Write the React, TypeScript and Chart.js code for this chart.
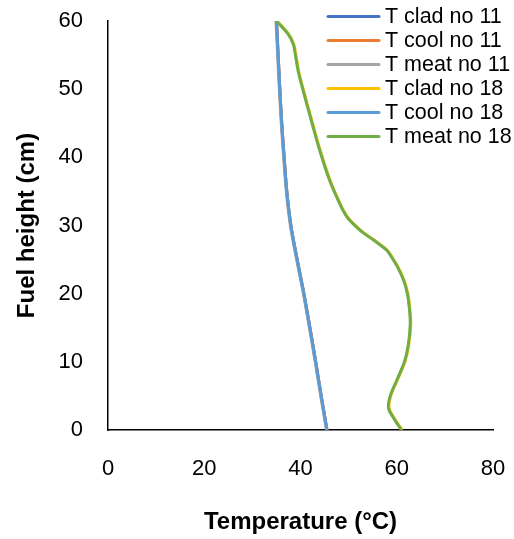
import React, { useEffect, useRef } from "react";
import { Chart, registerables } from "chart.js";

Chart.register(...registerables);

// Fuel heights (cm) at which the temperatures are sampled
const heightsNo11 = [0, 5, 10, 15, 20, 25, 30, 35, 40, 45, 50, 55, 60];
const heightsNo18Cool = [0, 5, 10, 15, 20, 25, 30, 35, 40, 45, 50, 55, 60];
const heightsNo18 = [
  0, 1.7, 3.2, 4.9, 7.3, 10, 12.5, 15.5, 18, 20, 22, 24, 25.5, 26.4, 27.9, 29.3,
  31.3, 34.2, 36.7, 41, 45, 50.7, 52.7, 55.6, 56.6, 58.1, 60,
];

// Temperatures (°C)
const tCladNo11 = [45.5, 44.3, 43.15, 41.95, 40.7, 39.3, 38.0, 37.15, 36.6, 36.1, 35.7, 35.35, 35.0];
const tCoolNo11 = [45.5, 44.3, 43.15, 41.95, 40.7, 39.3, 38.0, 37.15, 36.6, 36.1, 35.7, 35.35, 35.0];
const tMeatNo11 = [45.4, 44.2, 43.05, 41.85, 40.6, 39.2, 37.9, 37.05, 36.5, 36.0, 35.6, 35.25, 34.9];
const tCladNo18 = [
  61.1, 59.5, 58.4, 58.7, 60.1, 61.7, 62.5, 62.9, 62.7, 62.3, 61.5, 60.2, 58.9, 58.0, 55.2, 52.5,
  49.7, 47.6, 46.1, 44.1, 42.5, 40.3, 39.6, 38.9, 38.6, 37.5, 35.1,
];
const tCoolNo18 = [45.5, 44.3, 43.15, 41.95, 40.7, 39.3, 38.0, 37.15, 36.6, 36.1, 35.7, 35.35, 35.0];
const tMeatNo18 = [
  61.0, 59.4, 58.3, 58.6, 60.0, 61.6, 62.4, 62.8, 62.6, 62.2, 61.4, 60.1, 58.8, 57.9, 55.1, 52.4,
  49.6, 47.5, 46.0, 44.0, 42.4, 40.2, 39.5, 38.8, 38.5, 37.4, 35.0,
];

const seriesLabels = [
  "T clad no 11",
  "T cool no 11",
  "T meat no 11",
  "T clad no 18",
  "T cool no 18",
  "T meat no 18",
];
const seriesColors = ["#4472C4", "#ED7D31", "#A5A5A5", "#FFC000", "#5B9BD5", "#70AD47"];
const seriesTemps = [tCladNo11, tCoolNo11, tMeatNo11, tCladNo18, tCoolNo18, tMeatNo18];
const seriesHeights = [heightsNo11, heightsNo11, heightsNo11, heightsNo18, heightsNo18Cool, heightsNo18];

const xTicks = [0, 20, 40, 60, 80];
const yTicks = [0, 10, 20, 30, 40, 50, 60];

const FONT = "'Liberation Sans', Arial, sans-serif";
const W = 514;
const H = 539;

// Legend drawn at the top right, partly over the plot
const sideLegend = {
  id: "sideLegend",
  afterDraw(chart: any) {
    const ctx = chart.ctx as CanvasRenderingContext2D;
    ctx.save();
    ctx.font = `21.5px ${FONT}`;
    ctx.textBaseline = "middle";
    ctx.textAlign = "left";
    chart.data.datasets.forEach((ds: any, i: number) => {
      const y = 16.5 + i * 24;
      ctx.strokeStyle = ds.borderColor;
      ctx.lineWidth = 3;
      ctx.lineCap = "round";
      ctx.beginPath();
      ctx.moveTo(328, y);
      ctx.lineTo(379, y);
      ctx.stroke();
      ctx.fillStyle = "#000";
      ctx.fillText(ds.label, 385, y + 1);
    });
    ctx.restore();
  },
};

export default function App() {
  const canvasRef = useRef<HTMLCanvasElement | null>(null);

  useEffect(() => {
    if (!canvasRef.current) return;
    const datasets = seriesLabels.map((label, i) => ({
      label,
      data: seriesHeights[i].map((h, j) => ({ x: seriesTemps[i][j], y: h })),
      borderColor: seriesColors[i],
      backgroundColor: seriesColors[i],
      borderWidth: 3,
      showLine: true,
      pointRadius: 0,
      tension: 0.35,
      fill: false,
      order: seriesLabels.length - 1 - i,
    }));

    const chart = new Chart(canvasRef.current, {
      type: "scatter",
      data: { datasets },
      options: {
        animation: false,
        responsive: false,
        layout: { padding: { top: 21, right: 21, left: 0, bottom: 0 } },
        plugins: {
          legend: { display: false },
          tooltip: { enabled: false },
        },
        scales: {
          x: {
            type: "linear",
            min: 0,
            max: 80,
            afterBuildTicks: (scale: any) => {
              scale.ticks = xTicks.map((v) => ({ value: v }));
            },
            afterFit: (scale: any) => {
              scale.height = 109;
              scale.paddingLeft = 0;
              scale.paddingRight = 0;
            },
            grid: { display: false, drawTicks: false },
            border: { display: true, color: "#000", width: 1.5 },
            ticks: {
              padding: 26,
              color: "#000",
              font: { family: FONT, size: 22 },
            },
            title: {
              display: true,
              text: "Temperature (°C)",
              color: "#000",
              font: { family: FONT, size: 24, weight: "bold", lineHeight: 1 },
              padding: { top: 0, bottom: 5 },
            },
          },
          y: {
            type: "linear",
            min: 0,
            max: 60,
            afterBuildTicks: (scale: any) => {
              scale.ticks = yTicks.map((v) => ({ value: v }));
            },
            afterFit: (scale: any) => {
              scale.width = 108;
              scale.paddingTop = 0;
              scale.paddingBottom = 0;
            },
            grid: { display: false, drawTicks: false },
            border: { display: true, color: "#000", width: 1.5 },
            ticks: {
              padding: 25,
              color: "#000",
              font: { family: FONT, size: 22 },
            },
            title: {
              display: true,
              text: "Fuel height (cm)",
              color: "#000",
              font: { family: FONT, size: 24, weight: "bold", lineHeight: 1 },
              padding: { top: 15, bottom: 0 },
            },
          },
        },
      },
      plugins: [sideLegend],
    });

    return () => chart.destroy();
  }, []);

  return (
    <div style={{ position: "absolute", left: 0, top: 0, width: W, height: H }}>
      <canvas ref={canvasRef} width={W} height={H} style={{ display: "block" }} />
    </div>
  );
}
